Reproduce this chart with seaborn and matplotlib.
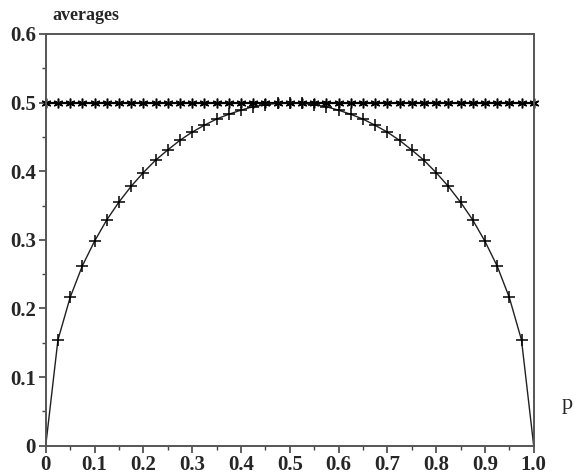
import matplotlib
matplotlib.use("Agg")
import matplotlib.pyplot as plt
from matplotlib.ticker import MultipleLocator, FixedFormatter, FixedLocator
import seaborn as sns
import pandas as pd

sns.set_theme(style="ticks")
plt.rcParams["font.family"] = ["Liberation Serif", "DejaVu Serif"]

# success probability p on a 0.025 grid
p = [0.0, 0.025, 0.05, 0.075, 0.1, 0.125, 0.15, 0.175, 0.2, 0.225, 0.25,
     0.275, 0.3, 0.325, 0.35, 0.375, 0.4, 0.425, 0.45, 0.475, 0.5,
     0.525, 0.55, 0.575, 0.6, 0.625, 0.65, 0.675, 0.7, 0.725, 0.75,
     0.775, 0.8, 0.825, 0.85, 0.875, 0.9, 0.925, 0.95, 0.975, 1.0]

# averaged curve values
curve = [0.0, 0.154, 0.216, 0.262, 0.298, 0.329, 0.355, 0.378, 0.398, 0.416, 0.431,
         0.445, 0.457, 0.467, 0.476, 0.483, 0.489, 0.494, 0.497, 0.499, 0.5,
         0.499, 0.497, 0.494, 0.489, 0.483, 0.476, 0.467, 0.457, 0.445, 0.431,
         0.416, 0.398, 0.378, 0.355, 0.329, 0.298, 0.262, 0.216, 0.154, 0.0]

# constant level
level = [0.5] * len(p)

x_ticks = [0.0, 0.1, 0.2, 0.3, 0.4, 0.5, 0.6, 0.7, 0.8, 0.9, 1.0]
x_labels = ["0", "0.1", "0.2", "0.3", "0.4", "0.5", "0.6", "0.7", "0.8", "0.9", "1.0"]
y_ticks = [0.0, 0.1, 0.2, 0.3, 0.4, 0.5, 0.6]
y_labels = ["0", "0.1", "0.2", "0.3", "0.4", "0.5", "0.6"]

df = pd.DataFrame({"p": p, "curve": curve, "level": level})

fig = plt.figure(figsize=(5.81, 4.74), dpi=100)
ax = fig.add_axes([0.0787, 0.0597, 0.9186 - 0.0787, 0.9283 - 0.0597])

sns.lineplot(data=df, x="p", y="level", ax=ax, color="black", linewidth=1.6,
             marker=(6, 2, 0), markersize=7, markeredgewidth=1.1,
             markeredgecolor="black", clip_on=False)
sns.lineplot(data=df, x="p", y="curve", ax=ax, color="#202020", linewidth=1.0,
             marker="+", markersize=8, markeredgewidth=1.1, markeredgecolor="black",
             markevery=list(range(1, len(p) - 1)), clip_on=False)

ax.set_xlim(0, 1.0)
ax.set_ylim(0, 0.6)
ax.xaxis.set_major_locator(FixedLocator(x_ticks))
ax.xaxis.set_major_formatter(FixedFormatter(x_labels))
ax.yaxis.set_major_locator(FixedLocator(y_ticks))
ax.yaxis.set_major_formatter(FixedFormatter(y_labels))
ax.xaxis.set_minor_locator(MultipleLocator(0.05))
ax.yaxis.set_minor_locator(MultipleLocator(0.05))
ax.tick_params(which="major", length=5, width=1.2, color="#444444",
               labelsize=15, pad=2)
ax.tick_params(which="minor", length=3, width=1.0, color="#444444")
for lab in ax.get_xticklabels() + ax.get_yticklabels():
    lab.set_fontweight("bold")

for s in ax.spines.values():
    s.set_linewidth(1.4)
    s.set_color("#555555")

ax.set_xlabel("")
ax.set_ylabel("")
fig.text(52 / 581, 1 - 15 / 474, "averages", fontsize=13, fontweight="bold",
         ha="left", va="center")
fig.text(567 / 581, 1 - 405 / 474, "p", fontsize=16, ha="center", va="center")

fig.savefig("out.png", dpi=100)
